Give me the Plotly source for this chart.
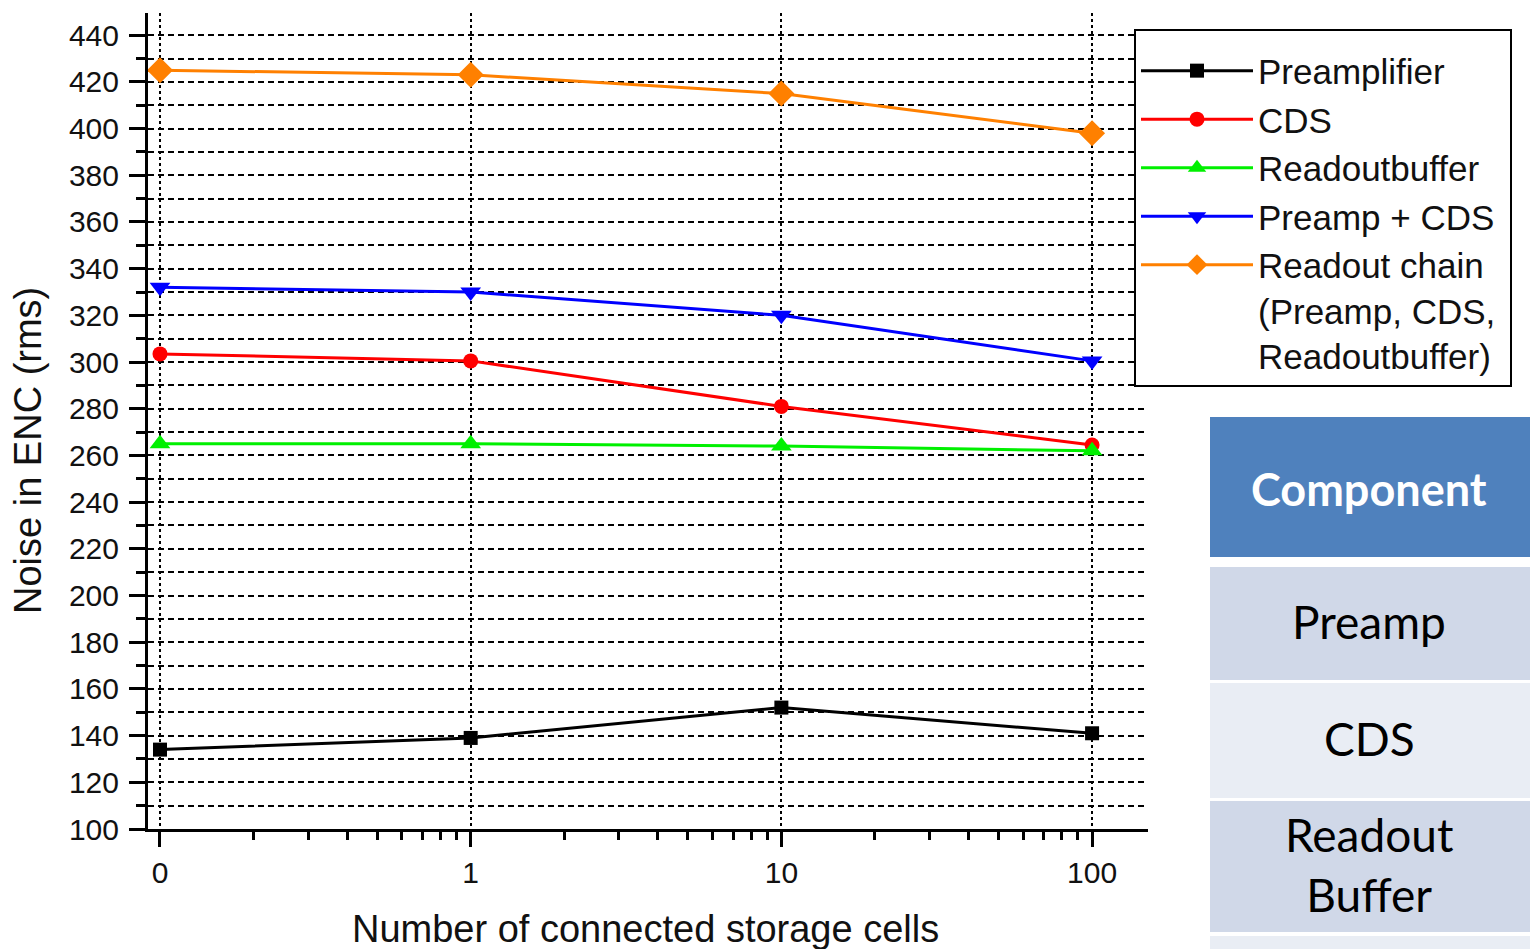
import plotly.graph_objects as go

# Storage-cell counts (0 is placed at 0.1 on the log axis) and their labels
cells_pos = [0.1, 1, 10, 100]
cells_labels = ["0", "1", "10", "100"]

# Noise in ENC (rms) per component
preamplifier = [134, 139, 152, 141]
cds = [303.5, 300.5, 281, 264.5]
readoutbuffer = [265, 265, 264, 262]
preamp_cds = [332, 330, 320, 300.5]
readout_chain = [425, 423, 415, 398]

NBSP = "\u00a0"
series = [
    ("Preamplifier", preamplifier, "#000000", "square", 14),
    ("CDS", cds, "#FF0000", "circle", 15),
    ("Readoutbuffer", readoutbuffer, "#00F000", "triangle-up", 18),
    ("Preamp + CDS" + NBSP, preamp_cds, "#0000FF", "triangle-down", 18),
    ("Readout chain<br>(Preamp, CDS,<br>Readoutbuffer)", readout_chain, "#FF8000", "diamond", 20),
]

table_header = "Component"
table_rows = ["Preamp", "CDS", "Readout<br>Buffer"]

W, H = 1530, 949
L, R, T, B = 148, 1148, 13, 829  # plot area in pixels


def px(x):
    return (x - L) / (R - L)


def py(y):
    return (B - y) / (B - T)


fig = go.Figure()
for name, vals, color, sym, size in series:
    fig.add_trace(go.Scatter(
        x=cells_pos, y=vals, name=name, mode="lines+markers",
        line=dict(color=color, width=3),
        marker=dict(symbol=sym, size=size, color=color, line=dict(width=0)),
    ))

font_family = "Liberation Sans, Arial, sans-serif"

fig.update_layout(
    width=W, height=H,
    margin=dict(l=L, r=W - R, t=T, b=H - B, pad=0),
    paper_bgcolor="white", plot_bgcolor="white",
    font=dict(family=font_family, color="#111111"),
    showlegend=True,
    legend=dict(
        xref="paper", yref="paper",
        x=px(1134), y=py(29), xanchor="left", yanchor="top",
        bordercolor="black", borderwidth=2, bgcolor="white",
        font=dict(size=35, family=font_family, color="#111111"),
        title=dict(text=" ", font=dict(size=8)),
        itemwidth=112, tracegroupgap=0, valign="top",
        itemclick=False,
    ),
    xaxis=dict(
        type="log", range=[-1.0386, 2.180],
        tickmode="array", tickvals=cells_pos, ticktext=cells_labels,
        ticks="outside", ticklen=15, tickwidth=3, tickcolor="black",
        showline=True, linecolor="black", linewidth=3,
        showgrid=True, gridcolor="black", gridwidth=2, griddash="3px,3px",
        zeroline=False,
        tickfont=dict(size=30, color="#111111"),
        ticklabelstandoff=0,
        minor=dict(
            tickvals=[v * m for m in (0.1, 1, 10) for v in range(2, 10)],
            ticks="outside", ticklen=8, tickwidth=3, tickcolor="black",
            showgrid=False,
        ),
    ),
    yaxis=dict(
        range=[100, 449.5], tick0=100, dtick=20,
        ticks="outside", ticklen=16, tickwidth=3, tickcolor="black",
        showline=True, linecolor="black", linewidth=3,
        showgrid=True, gridcolor="black", gridwidth=2, griddash="6px,4px",
        zeroline=False,
        tickfont=dict(size=30, color="#111111"),
        ticklabelstandoff=4,
        minor=dict(
            dtick=10, ticks="outside", ticklen=9, tickwidth=3, tickcolor="black",
            showgrid=True, gridcolor="black", gridwidth=2, griddash="6px,4px",
        ),
    ),
)

# Axis titles
fig.add_annotation(
    text="Number of connected storage cells", xref="paper", yref="paper",
    x=px(645), y=py(929), xanchor="center", yanchor="middle", showarrow=False,
    font=dict(size=38, family=font_family, color="#111111"),
)
fig.add_annotation(
    text="Noise in ENC (rms)", xref="paper", yref="paper",
    x=px(28), y=py(451), xanchor="center", yanchor="middle", showarrow=False,
    textangle=-90, font=dict(size=38, family=font_family, color="#111111"),
)

# Component table on the right
table_font = "Lato, Noto Sans, sans-serif"
cells = [
    (417, 557, "#4F81BD"),
    (567, 680, "#D0D8E8"),
    (683, 798, "#E9EDF4"),
    (801, 932, "#D0D8E8"),
    (936, 949, "#E9EDF4"),
]
for y0, y1, color in cells:
    fig.add_shape(type="rect", xref="paper", yref="paper",
                  x0=px(1210), x1=px(1530), y0=py(y1), y1=py(y0),
                  fillcolor=color, line=dict(width=0), layer="above")

fig.add_annotation(
    text="<b>" + table_header + "</b>", xref="paper", yref="paper",
    x=px(1369), y=py(489), xanchor="center", yanchor="middle", showarrow=False,
    font=dict(size=45, family=table_font, color="white"),
)
for (y0, y1, _), label in zip(cells[1:4], table_rows):
    fig.add_annotation(
        text=label, xref="paper", yref="paper",
        x=px(1369), y=py((y0 + y1) / 2 - 2), xanchor="center", yanchor="middle",
        showarrow=False,
        font=dict(size=46, family=table_font, color="black"),
    )

fig.write_html("out.html")
